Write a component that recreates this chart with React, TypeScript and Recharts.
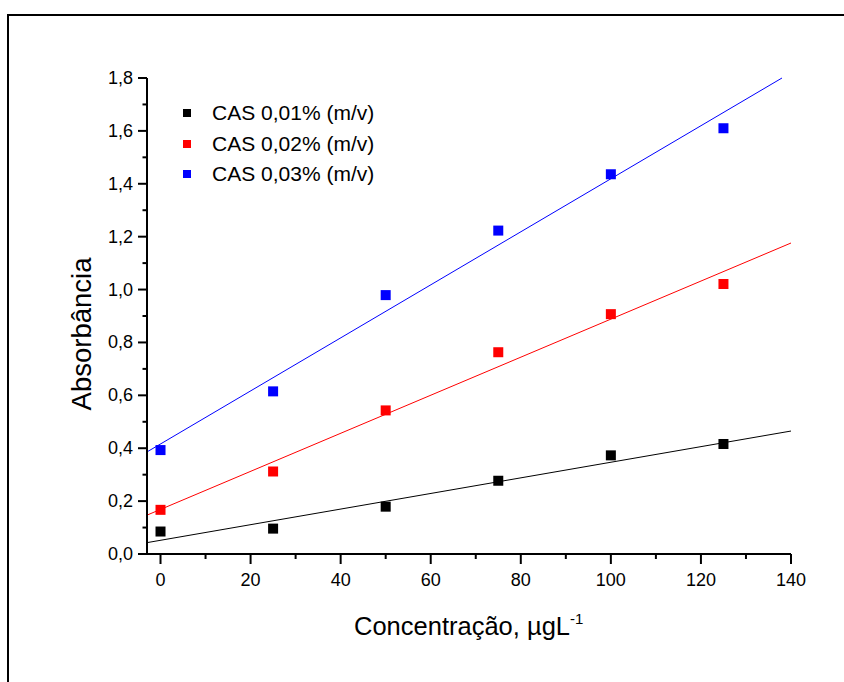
import React from 'react';
import {
  ComposedChart,
  XAxis,
  YAxis,
  Scatter,
  ReferenceLine,
  Legend,
} from 'recharts';

// concentration (µg/L) and absorbance
const concentrations = [0, 25, 50, 75, 100, 125];
const cas001 = [0.085, 0.096, 0.179, 0.277, 0.373, 0.416];
const cas002 = [0.167, 0.312, 0.543, 0.763, 0.907, 1.021];
const cas003 = [0.393, 0.615, 0.979, 1.223, 1.436, 1.61];

// endpoints of the linear fits as drawn
const fit001 = [{ x: -3, y: 0.043 }, { x: 140, y: 0.465 }];
const fit002 = [{ x: -3, y: 0.147 }, { x: 140, y: 1.176 }];
const fit003 = [{ x: -3, y: 0.386 }, { x: 138, y: 1.8 }];

const seriesNames = ['CAS 0,01% (m/v)', 'CAS 0,02% (m/v)', 'CAS 0,03% (m/v)'];
const seriesColors = ['#000000', '#ff0000', '#0000ff'];

const xTicks = [0, 10, 20, 30, 40, 50, 60, 70, 80, 90, 100, 110, 120, 130, 140];
const yTicks = [0, 0.1, 0.2, 0.3, 0.4, 0.5, 0.6, 0.7, 0.8, 0.9, 1.0, 1.1, 1.2, 1.3, 1.4, 1.5, 1.6, 1.7, 1.8];

const toPoints = (ys: number[]) => concentrations.map((x, i) => ({ x, y: ys[i] }));

const FONT = '"Liberation Sans", Arial, sans-serif';

const Square = (color: string) => (props: any) => {
  const { cx, cy } = props;
  if (cx == null || cy == null) return null;
  return <rect x={cx - 5} y={cy - 5} width={10} height={10} fill={color} />;
};

const XTick = (props: any) => {
  const { x, y, payload } = props;
  const major = payload.value % 20 === 0;
  return (
    <g>
      <line x1={x} y1={y} x2={x} y2={y + (major ? 10 : 5)} stroke="#000" strokeWidth={2} />
      {major && (
        <text x={x} y={y + 32} textAnchor="middle" fontSize={18} fontFamily={FONT} fill="#000">
          {payload.value}
        </text>
      )}
    </g>
  );
};

const YTick = (props: any) => {
  const { x, y, payload } = props;
  const v = Math.round(payload.value * 10);
  const major = v % 2 === 0;
  return (
    <g>
      <line x1={x - (major ? 9 : 4.5)} y1={y} x2={x} y2={y} stroke="#000" strokeWidth={2} />
      {major && (
        <text x={x - 14} y={y + 6} textAnchor="end" fontSize={18} fontFamily={FONT} fill="#000">
          {payload.value.toFixed(1).replace('.', ',')}
        </text>
      )}
    </g>
  );
};

const LegendBox = () => (
  <div style={{ fontFamily: FONT, fontSize: 21, color: '#000' }}>
    {seriesNames.map((name, i) => (
      <div key={name} style={{ display: 'flex', alignItems: 'center', height: 30.5 }}>
        <span style={{ display: 'inline-block', width: 8, height: 8, background: seriesColors[i], marginRight: 21 }} />
        <span>{name}</span>
      </div>
    ))}
  </div>
);

export default function App() {
  return (
    <div style={{ position: 'absolute', left: 0, top: 0, width: 844, height: 682, background: '#fff' }}>
      <div
        style={{
          position: 'absolute',
          left: 7,
          top: 14,
          width: 850,
          height: 700,
          borderTop: '2px solid #000',
          borderLeft: '2px solid #000',
        }}
      />
      <ComposedChart
        width={844}
        height={682}
        margin={{ top: 78, right: 53, bottom: 0, left: 0 }}
        style={{ position: 'absolute', left: 0, top: 0 }}
      >
        <XAxis
          type="number"
          dataKey="x"
          domain={[-3, 140]}
          ticks={xTicks}
          allowDataOverflow
          height={128}
          axisLine={{ stroke: '#000', strokeWidth: 2 }}
          tickLine={false}
          tickSize={0}
          tickMargin={0}
          tick={<XTick />}
          interval={0}
        />
        <YAxis
          type="number"
          dataKey="y"
          domain={[0, 1.8]}
          ticks={yTicks}
          allowDataOverflow
          width={147}
          axisLine={{ stroke: '#000', strokeWidth: 2 }}
          tickLine={false}
          tickSize={0}
          tickMargin={0}
          tick={<YTick />}
          interval={0}
        />
        <Legend
          layout="vertical"
          align="center"
          verticalAlign="middle"
          content={<LegendBox />}
          wrapperStyle={{ left: 183, top: 98, width: 260 }}
        />
        <ReferenceLine segment={fit001} stroke="#000000" strokeWidth={1} ifOverflow="visible" />
        <ReferenceLine segment={fit002} stroke="#ff0000" strokeWidth={1} ifOverflow="visible" />
        <ReferenceLine segment={fit003} stroke="#0000ff" strokeWidth={1} ifOverflow="visible" />
        <Scatter name={seriesNames[0]} data={toPoints(cas001)} fill="#000000" shape={Square('#000000')} isAnimationActive={false} />
        <Scatter name={seriesNames[1]} data={toPoints(cas002)} fill="#ff0000" shape={Square('#ff0000')} isAnimationActive={false} />
        <Scatter name={seriesNames[2]} data={toPoints(cas003)} fill="#0000ff" shape={Square('#0000ff')} isAnimationActive={false} />
      </ComposedChart>
      <svg width={844} height={682} style={{ position: 'absolute', left: 0, top: 0, pointerEvents: 'none' }}>
        <text
          transform="translate(91, 334) rotate(-90)"
          textAnchor="middle"
          fontSize={27.5}
          fontFamily={FONT}
          fill="#000"
        >
          Absorbância
        </text>
        <text x={354} y={635} fontSize={25.5} fontFamily={FONT} fill="#000">
          Concentração, µgL
          <tspan dy={-11} fontSize={15}>-1</tspan>
        </text>
      </svg>
    </div>
  );
}
